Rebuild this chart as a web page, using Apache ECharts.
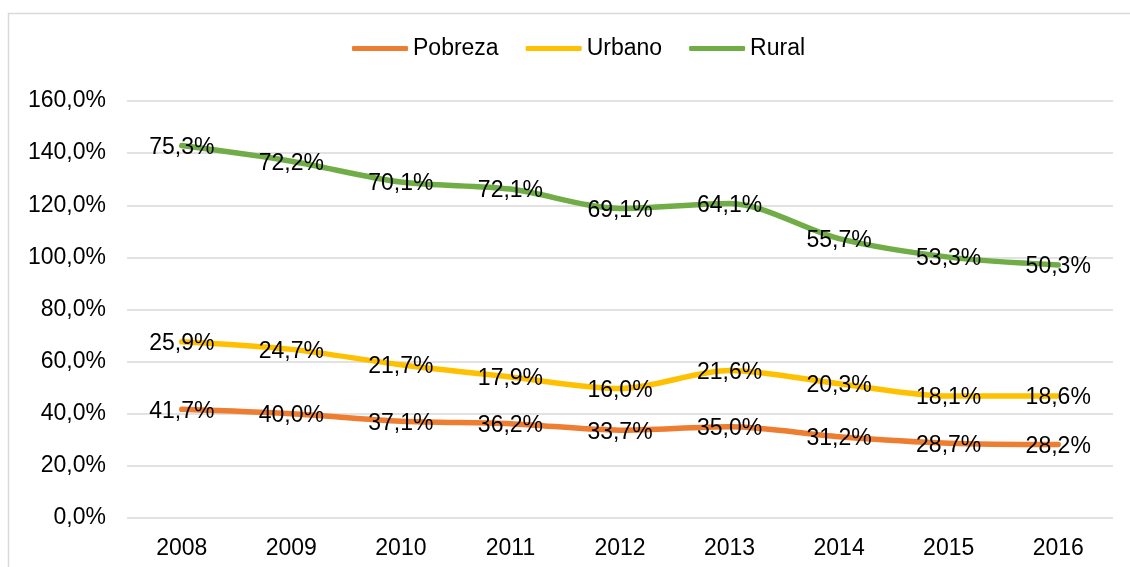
<!DOCTYPE html>
<html>
<head>
<meta charset="utf-8">
<script src="https://cdn.jsdelivr.net/npm/echarts@6/dist/echarts.min.js"></script>
<style>html,body{margin:0;padding:0;background:#fff}#c{width:1130px;height:567px}</style>
</head>
<body>
<div id="c"></div>
<script>
var years = ['2008','2009','2010','2011','2012','2013','2014','2015','2016'];
var pobreza = [41.7, 40.0, 37.1, 36.2, 33.7, 35.0, 31.2, 28.7, 28.2];
var urbano = [25.9, 24.7, 21.7, 17.9, 16.0, 21.6, 20.3, 18.1, 18.6];
var rural = [75.3, 72.2, 70.1, 72.1, 69.1, 64.1, 55.7, 53.3, 50.3];
var seriesNames = ['Pobreza', 'Urbano', 'Rural'];
var colors = ['#ED7D31', '#FFC000', '#70AD47'];

function fmt(v){ return v.toFixed(1).replace('.', ',') + '%'; }
var font = 'Liberation Sans, Arial, sans-serif';
var fs = 23;

function mk(name, data, color){
  return {
    name: name, type: 'line', stack: 'total', data: data, smooth: 0.3,
    symbol: 'circle', symbolSize: 0, showSymbol: true,
    lineStyle: {color: color, width: 5.5, cap: 'round'},
    itemStyle: {color: color},
    label: {show: true, position: 'inside', offset: [0, 2], color: '#000', fontSize: fs, fontFamily: font,
      formatter: function(p){ return fmt(p.value); }},
    emphasis: {disabled: true}
  };
}

var chart = echarts.init(document.getElementById('c'));
chart.setOption({
  animation: false,
  backgroundColor: '#fff',
  graphic: [{type: 'rect', shape: {x: 8.5, y: 13.5, width: 1200, height: 700}, style: {fill: 'none', stroke: '#D9D9D9', lineWidth: 1.5}, silent: true}],
  legend: {
    left: 352, top: 37, padding: 0, itemWidth: 56, itemHeight: 5, itemGap: 27, icon: 'roundRect',
    textStyle: {color: '#000', fontSize: fs, fontFamily: font},
    data: seriesNames
  },
  grid: {left: 127, right: 17, top: 101, bottom: 49},
  xAxis: {
    type: 'category', data: years, boundaryGap: true,
    axisLine: {show: false}, axisTick: {show: false},
    axisLabel: {color: '#000', fontSize: fs, fontFamily: font, margin: 19}
  },
  yAxis: {
    type: 'value', min: 0, max: 160, interval: 20,
    axisLine: {show: false}, axisTick: {show: false},
    splitLine: {lineStyle: {color: '#D9D9D9', width: 1.5}},
    axisLabel: {color: '#000', fontSize: fs, fontFamily: font, margin: 21,
      formatter: function(v){ return fmt(v); }}
  },
  series: [mk(seriesNames[0], pobreza, colors[0]), mk(seriesNames[1], urbano, colors[1]), mk(seriesNames[2], rural, colors[2])]
});
</script>
</body>
</html>
